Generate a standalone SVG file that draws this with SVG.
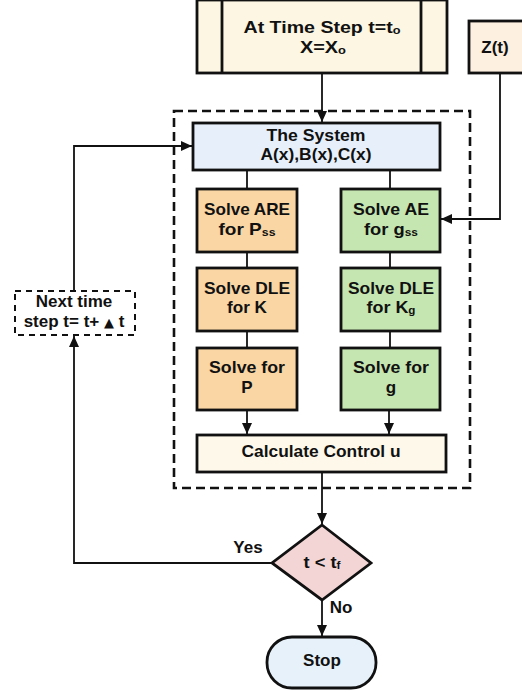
<svg xmlns="http://www.w3.org/2000/svg" width="522" height="693" viewBox="0 0 522 693">
  <style>
    text { font-family: "Liberation Sans", Arial, sans-serif; font-weight: bold; fill: #111; text-anchor: middle; font-size: 17px; }
    .sub { font-size: 11px; }
    .box { stroke: #111; stroke-width: 2.8; }
    .wire { fill: none; stroke: #111; stroke-width: 1.8; }
    .frame { fill: none; stroke: #111; stroke-width: 2.6; stroke-dasharray: 9 5; }
  </style>
  <defs>
    <marker id="arrow" markerUnits="userSpaceOnUse" markerWidth="11" markerHeight="10" refX="11" refY="5" orient="auto">
      <path d="M0,0 L11,5 L0,10 z" fill="#111"/>
    </marker>
  </defs>

  <rect width="522" height="693" fill="#ffffff"/>

  <!-- dashed boundary around the controller -->
  <g id="controller-frame">
    <rect class="frame" x="174" y="111" width="296" height="377"/>
  </g>

  <g id="connectors">
    <path class="wire" d="M322,73 V122" marker-end="url(#arrow)"/>
    <path class="wire" d="M500,73 V219 H441" marker-end="url(#arrow)"/>
    <path class="wire" d="M247,170 V189"/>
    <path class="wire" d="M390,170 V189"/>
    <path class="wire" d="M247,252 V268"/>
    <path class="wire" d="M390,252 V268"/>
    <path class="wire" d="M247,331 V348"/>
    <path class="wire" d="M390,331 V348"/>
    <path class="wire" d="M247,410 V434" marker-end="url(#arrow)"/>
    <path class="wire" d="M389,410 V434" marker-end="url(#arrow)"/>
    <path class="wire" d="M322,472 V524" marker-end="url(#arrow)"/>
    <path class="wire" d="M322,600 V636" marker-end="url(#arrow)"/>
    <path class="wire" d="M272,563 H74 V336" marker-end="url(#arrow)"/>
    <path class="wire" d="M74,291 V146 H192" marker-end="url(#arrow)"/>
  </g>

  <g id="start">
    <rect class="box" x="197" y="0" width="250" height="73" fill="#fdf6e2" stroke-width="3"/>
    <line x1="222" y1="0" x2="222" y2="73" stroke="#111" stroke-width="2.8"/>
    <line x1="421" y1="0" x2="421" y2="73" stroke="#111" stroke-width="2.8"/>
    <text x="322" y="33" textLength="157" lengthAdjust="spacingAndGlyphs">At Time Step t=t<tspan class="sub" dy="1">o</tspan></text>
    <text x="323" y="53" textLength="46" lengthAdjust="spacingAndGlyphs">X=X<tspan class="sub" dy="1">o</tspan></text>
  </g>

  <g id="reference-input">
    <rect class="box" x="469" y="21" width="56" height="52" fill="#fdf0e0"/>
    <text x="495" y="53">Z(t)</text>
  </g>

  <g id="system">
    <rect class="box" x="193" y="123" width="247" height="47" fill="#e7f0fa"/>
    <text x="316" y="141" textLength="99" lengthAdjust="spacingAndGlyphs">The System</text>
    <text x="316" y="160" textLength="111" lengthAdjust="spacingAndGlyphs">A(x),B(x),C(x)</text>
  </g>

  <g id="solve-are">
    <rect class="box" x="197" y="189" width="100" height="63" fill="#f9d6a4"/>
    <text x="247" y="215" textLength="86" lengthAdjust="spacingAndGlyphs">Solve ARE</text>
    <text x="247" y="235" textLength="57" lengthAdjust="spacingAndGlyphs">for P<tspan class="sub" dy="1">ss</tspan></text>
  </g>

  <g id="solve-ae">
    <rect class="box" x="341" y="189" width="99" height="63" fill="#c5e6b0"/>
    <text x="391" y="215" textLength="76" lengthAdjust="spacingAndGlyphs">Solve AE</text>
    <text x="391" y="235" textLength="54" lengthAdjust="spacingAndGlyphs">for g<tspan class="sub" dy="1">ss</tspan></text>
  </g>

  <g id="solve-dle-k">
    <rect class="box" x="197" y="268" width="100" height="63" fill="#f9d6a4"/>
    <text x="247" y="294" textLength="86" lengthAdjust="spacingAndGlyphs">Solve DLE</text>
    <text x="247" y="313" textLength="40" lengthAdjust="spacingAndGlyphs">for K</text>
  </g>

  <g id="solve-dle-kg">
    <rect class="box" x="341" y="268" width="99" height="63" fill="#c5e6b0"/>
    <text x="391" y="294" textLength="86" lengthAdjust="spacingAndGlyphs">Solve DLE</text>
    <text x="391" y="313" textLength="49" lengthAdjust="spacingAndGlyphs">for K<tspan class="sub" dy="1">g</tspan></text>
  </g>

  <g id="solve-p">
    <rect class="box" x="197" y="348" width="100" height="62" fill="#f9d6a4"/>
    <text x="247" y="373" textLength="76" lengthAdjust="spacingAndGlyphs">Solve for</text>
    <text x="247" y="393">P</text>
  </g>

  <g id="solve-g">
    <rect class="box" x="341" y="348" width="99" height="62" fill="#c5e6b0"/>
    <text x="391" y="373" textLength="76" lengthAdjust="spacingAndGlyphs">Solve for</text>
    <text x="391" y="393">g</text>
  </g>

  <g id="control">
    <rect class="box" x="197" y="435" width="249" height="37" fill="#fdf8ea"/>
    <text x="321" y="457" textLength="159" lengthAdjust="spacingAndGlyphs">Calculate Control u</text>
  </g>

  <g id="next-step">
    <rect x="15" y="291" width="120" height="44" fill="#ffffff" stroke="#111" stroke-width="2" stroke-dasharray="6 5"/>
    <text x="74" y="307" font-size="16.5px">Next time</text>
    <text x="74" y="327" font-size="16.5px">step t= t+ <tspan font-size="13px" font-family="DejaVu Sans, sans-serif">▲</tspan> t</text>
  </g>

  <g id="check">
    <polygon class="box" points="322,525 371,563 322,600 272,563" fill="#f3d5d5" stroke-width="2.4"/>
    <text x="322" y="568" textLength="37" lengthAdjust="spacingAndGlyphs">t &lt; t<tspan class="sub" dy="1">f</tspan></text>
    <text x="248" y="553">Yes</text>
    <text x="341" y="613">No</text>
  </g>

  <g id="stop">
    <rect class="box" x="267" y="637" width="109" height="51" rx="25" ry="25" fill="#e6f1fa" stroke-width="2.4"/>
    <text x="322" y="666">Stop</text>
  </g>
</svg>
